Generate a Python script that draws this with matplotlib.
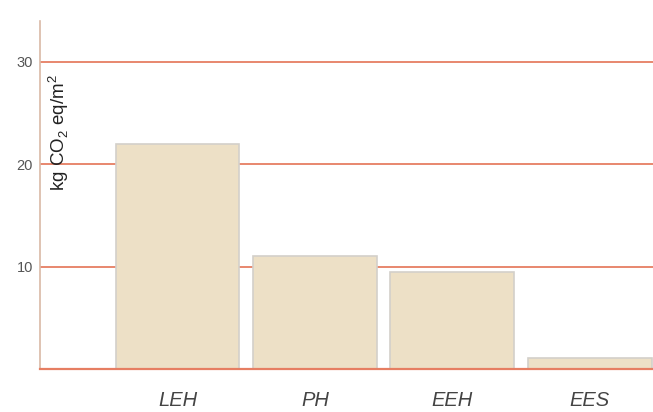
import matplotlib
matplotlib.use("Agg")
import matplotlib.pyplot as plt

categories = ["LEH", "PH", "EEH", "EES"]
values = [22.0, 11.0, 9.5, 1.1]
yticks = [10, 20, 30]

plt.rcParams['font.family'] = ['Liberation Sans', 'DejaVu Sans']

fig = plt.figure(figsize=(6.53, 4.12), dpi=100)
ax = fig.add_axes([40/653, (412-369)/412, 1 - 40/653, (369-21)/412])

grid_color = "#E67E62"
ax.set_ylim(0, 34)
ax.set_xlim(-1.0, 3.46)
for t in yticks:
    ax.axhline(t, color=grid_color, lw=1.3, zorder=1)
ax.axhline(0, color=grid_color, lw=1.6, zorder=3, clip_on=False)

x = list(range(len(categories)))
ax.bar(x, values, width=0.9, color="#EDE0C6", edgecolor="#D3D0CA", linewidth=1.2, zorder=2)

for s in ["top", "right", "bottom"]:
    ax.spines[s].set_visible(False)
ax.spines["left"].set_color("#D9B9A6")
ax.spines["left"].set_linewidth(1.2)

ax.set_yticks(yticks)
ax.set_yticklabels([str(t) for t in yticks], fontsize=10.5, color="#555555")
ax.tick_params(axis="y", length=0, pad=5)
ax.set_xticks(x)
ax.set_xticklabels(categories, fontsize=14.5, fontstyle="italic", color="#444444")
ax.tick_params(axis="x", length=0, pad=16)

ax.text(0.031, 0.848, r"kg CO$_\mathregular{2}$ eq/m$^\mathregular{2}$", transform=ax.transAxes,
        rotation=90, va="top", ha="center", fontsize=13.5, color="#222222")

fig.savefig("out.png", dpi=100)
